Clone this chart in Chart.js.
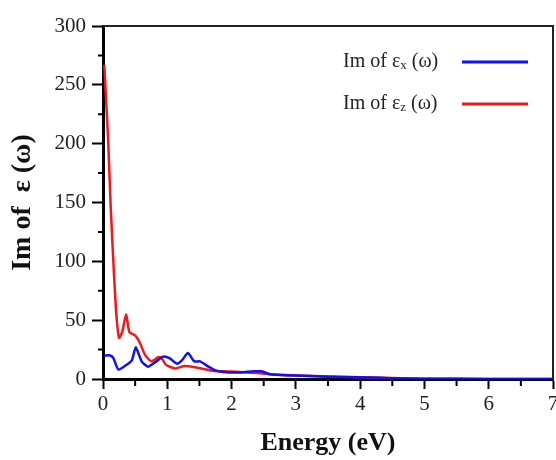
<!DOCTYPE html>
<html>
<head>
<meta charset="utf-8">
<script src="https://cdn.jsdelivr.net/npm/chart.js@4.4.0/dist/chart.umd.min.js"></script>
<style>
html, body { margin: 0; padding: 0; background: #fff; }
</style>
</head>
<body>
<canvas id="imEps" width="556" height="460"></canvas>
<script>
// values
var energyX = [0.02, 0.11, 0.16, 0.24, 0.39, 0.45, 0.51, 0.60, 0.70, 0.83, 0.94, 1.04, 1.15, 1.23, 1.32, 1.42, 1.51, 1.64, 1.74, 1.87, 2.13, 2.34, 2.47, 2.60, 2.90, 3.10, 3.50, 3.90, 4.30, 4.60, 5.00, 6.00, 7.00];
var imEpsX  = [20, 20, 18, 8, 13, 16, 27, 15, 10.5, 15, 19, 17.5, 13, 16, 22, 15, 15, 10.5, 7.6, 6, 5.5, 6.5, 6.5, 4, 3.2, 2.8, 2, 1.5, 1, 0.5, 0.2, 0.1, 0.1];

var energyZ = [0.02, 0.08, 0.12, 0.17, 0.21, 0.25, 0.30, 0.36, 0.41, 0.50, 0.58, 0.65, 0.75, 0.86, 0.91, 0.98, 1.12, 1.27, 1.43, 1.53, 1.70, 1.87, 2.13, 2.39, 2.65, 2.86, 3.06, 3.50, 3.84, 4.20, 4.50, 5.00, 6.00, 7.00];
var imEpsZ  = [267, 203, 146, 90, 53, 35, 40, 55, 40, 37, 30, 21, 15, 18.5, 18, 12, 9, 11, 10, 9, 7, 6.5, 6, 5, 3.8, 3, 3, 2.2, 1.8, 1.2, 0.8, 0.3, 0.1, 0.1];

var seriesNames = ['Im of εx (ω)', 'Im of εz (ω)'];
var legendParts = [['Im of ε', 'x', ' (ω)'], ['Im of ε', 'z', ' (ω)']];
var seriesColors = ['#1010f0', '#f01818'];

var xTicks = [0, 1, 2, 3, 4, 5, 6, 7];
var yTicks = [0, 50, 100, 150, 200, 250, 300];

function toPoints(xs, ys) {
    return xs.map(function (x, i) { return { x: x, y: ys[i] }; });
}

var framePlugin = {
    id: 'frame',
    afterDraw: function (chart) {
        var ctx = chart.ctx;
        var a = chart.chartArea;
        var xs = chart.scales.x, ys = chart.scales.y;
        ctx.save();
        // top and right side of the box
        ctx.strokeStyle = '#222';
        ctx.lineWidth = 2;
        ctx.beginPath();
        ctx.moveTo(a.left, a.top);
        ctx.lineTo(a.right, a.top);
        ctx.lineTo(a.right, a.bottom + 1);
        ctx.stroke();
        // minor ticks
        ctx.strokeStyle = '#000';
        ctx.lineWidth = 2;
        ctx.beginPath();
        for (var i = 0; i < xTicks.length - 1; i++) {
            var px = xs.getPixelForValue(xTicks[i] + 0.5);
            ctx.moveTo(px, a.bottom);
            ctx.lineTo(px, a.bottom + 7);
        }
        for (var j = 0; j < yTicks.length - 1; j++) {
            var py = ys.getPixelForValue(yTicks[j] + 25);
            ctx.moveTo(a.left, py);
            ctx.lineTo(a.left - 5, py);
        }
        ctx.stroke();
        // legend
        var rows = [62, 104];
        for (var k = 0; k < legendParts.length; k++) {
            var y = rows[k];
            var x = 343;
            ctx.fillStyle = '#222';
            ctx.textBaseline = 'middle';
            ctx.font = '20px "Liberation Serif"';
            ctx.fillText(legendParts[k][0], x, y);
            x += ctx.measureText(legendParts[k][0]).width;
            ctx.font = '13px "Liberation Serif"';
            ctx.fillText(legendParts[k][1], x, y + 4);
            x += ctx.measureText(legendParts[k][1]).width;
            ctx.font = '20px "Liberation Serif"';
            ctx.fillText(legendParts[k][2], x, y);
            ctx.strokeStyle = seriesColors[k];
            ctx.lineWidth = 3;
            ctx.beginPath();
            ctx.moveTo(462, y);
            ctx.lineTo(528, y);
            ctx.stroke();
        }
        ctx.restore();
    }
};

new Chart(document.getElementById('imEps'), {
    type: 'line',
    data: {
        datasets: [{
            label: seriesNames[0],
            data: toPoints(energyX, imEpsX),
            borderColor: seriesColors[0],
            borderWidth: 2.5,
            pointRadius: 0,
            tension: 0.2,
            fill: false
        }, {
            label: seriesNames[1],
            data: toPoints(energyZ, imEpsZ),
            borderColor: seriesColors[1],
            borderWidth: 2.5,
            pointRadius: 0,
            tension: 0.2,
            fill: false
        }]
    },
    options: {
        responsive: false,
        animation: false,
        layout: { padding: { top: 26, right: 3, left: 0, bottom: 0 } },
        plugins: {
            legend: { display: false },
            tooltip: { enabled: false }
        },
        scales: {
            x: {
                type: 'linear',
                min: 0,
                max: 7,
                afterFit: function (scale) {
                    scale.height = 81;
                    scale.paddingLeft = 0;
                    scale.paddingRight = 0;
                },
                afterBuildTicks: function (scale) {
                    scale.ticks = xTicks.map(function (v) { return { value: v }; });
                },
                border: { display: true, color: '#000', width: 3 },
                grid: { drawOnChartArea: false, drawTicks: true, tickLength: 10, tickWidth: 2, tickColor: '#000' },
                ticks: {
                    padding: 3,
                    color: '#222',
                    maxRotation: 0,
                    autoSkip: false,
                    font: { family: '"Liberation Serif"', size: 21 }
                },
                title: {
                    display: true,
                    text: 'Energy (eV)',
                    color: '#111',
                    font: { family: '"Liberation Serif"', size: 26, weight: 'bold' },
                    padding: { top: 0, bottom: 1 }
                }
            },
            y: {
                min: 0,
                max: 300,
                afterFit: function (scale) {
                    scale.width = 103;
                    scale.paddingTop = 0;
                    scale.paddingBottom = 0;
                },
                afterBuildTicks: function (scale) {
                    scale.ticks = yTicks.map(function (v) { return { value: v }; });
                },
                border: { display: true, color: '#000', width: 3 },
                grid: { drawOnChartArea: false, drawTicks: true, tickLength: 11, tickWidth: 2, tickColor: '#000' },
                ticks: {
                    padding: 6,
                    color: '#222',
                    font: { family: '"Liberation Serif"', size: 21 }
                },
                title: {
                    display: true,
                    text: 'Im of  ε (ω)',
                    color: '#111',
                    font: { family: '"Liberation Serif"', size: 28, weight: 'bold' },
                    padding: { top: 6, bottom: 0 }
                }
            }
        }
    },
    plugins: [framePlugin]
});
</script>
</body>
</html>
